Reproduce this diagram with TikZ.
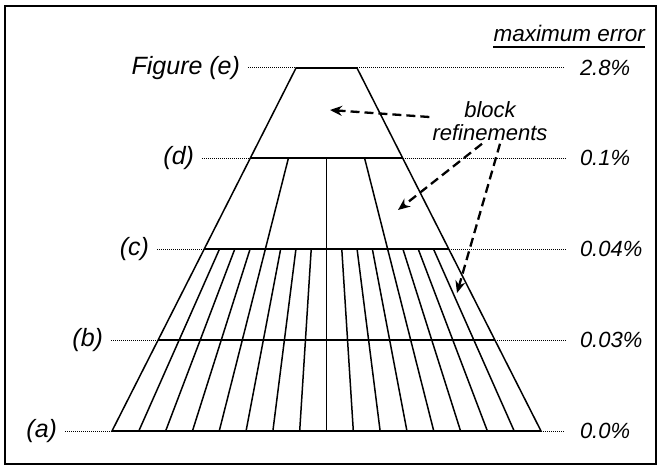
\documentclass[tikz,border=0pt]{standalone}
\usepackage{fontspec}
\setmainfont{Liberation Sans}
\usetikzlibrary{arrows.meta, calc, positioning}
\tikzset{
    % Text styles
    level label/.style={
        anchor=east,
        inner sep=0pt,
        outer sep=8pt,
        font=\fontsize{25}{28}\selectfont\itshape
    },
    error label/.style={
        anchor=west,
        inner sep=0pt,
        outer sep=15pt,
        font=\fontsize{22}{24}\selectfont\itshape
    },
    note/.style={
        align=center,
        inner sep=3pt,
        font=\fontsize{22}{23}\selectfont\itshape
    },
    % Line styles
    guide line/.style={
        line width=1pt,
        dash pattern=on 1pt off 1pt
    },
    block line/.style={
        line width=1.5pt,
        line join=miter
    },
    level line/.style={
        line width=1.9pt
    },
    refine arrow/.style={
        -{Stealth[length=12pt,width=10pt]},
        line width=2.3pt,
        dash pattern=on 9pt off 5pt
    }
}

\begin{document}
\begin{tikzpicture}[x=1pt, y=-1pt]
        \useasboundingbox (0,0) rectangle (663,468);
        \draw[line width=2.8pt] (5,6) rectangle (656,464);

        % Corners of each level
        \foreach \lev/\yy in {e/68, d/158, c/249, b/340, a/431} {
            \coordinate (\lev L) at ({296-(\yy-68)*0.5069}, \yy);
            \coordinate (\lev R) at ({357+(\yy-68)*0.5069}, \yy);
        }

        % Level labels
        \node[level label] (labE) at (248, 68) {Figure (e)};
        \node[level label] (labD) at (202, 158) {(d)};
        \node[level label] (labC) at (157, 249) {(c)};
        \node[level label] (labB) at (111, 340) {(b)};
        \node[level label] (labA) at (65, 431) {(a)};

        % Error values
        \node[font=\fontsize{22.5}{24}\selectfont\itshape, anchor=base east, inner sep=0pt] (maxerr) at (645, 42) {maximum error};
        \draw[line width=1.4pt] ([yshift=-5pt]maxerr.base west) -- ([yshift=-5pt]maxerr.base east);
        \node[error label] (errE) at (565, 68) {2.8\%};
        \node[error label] (errD) at (565, 158) {0.1\%};
        \node[error label] (errC) at (565, 249) {0.04\%};
        \node[error label] (errB) at (565, 340) {0.03\%};
        \node[error label] (errA) at (565, 431) {0.0\%};

        % Dotted guides
        \foreach \lev/\lab/\err in {e/labE/errE, d/labD/errD, c/labC/errC, b/labB/errB, a/labA/errA} {
            \draw[guide line] (\lab) -- (\lev L);
            \draw[guide line] (\lev R) -- (\err);
        }

        % Blocks
        \draw[block line] (eL) -- (eR) -- (aR) -- (aL) -- cycle;
        \foreach \lev in {e, d, c, b, a}
            \draw[level line] (\lev L) -- (\lev R);
        \foreach \i in {1, 2, 3}
            \draw[block line] ($(dL)!\i/4!(dR)$) -- ($(cL)!\i/4!(cR)$);
        \foreach \i in {1, ..., 15}
            \draw[block line] ($(cL)!\i/16!(cR)$) -- ($(aL)!\i/16!(aR)$);

        % Refinement arrows
        \node[note] (refine) at (490, 121) {block\\refinements};
        \coordinate (tipE) at (330, 110);
        \coordinate (tipD) at (398, 210);
        \coordinate (tipC) at (457, 293);
        \draw[refine arrow] ([yshift=4pt]refine.west) -- (tipE);
        \draw[refine arrow] ([xshift=-8pt]refine.south) -- (tipD);
        \draw[refine arrow] ([xshift=10pt]refine.south) -- (tipC);
    \end{tikzpicture}
\end{document}
